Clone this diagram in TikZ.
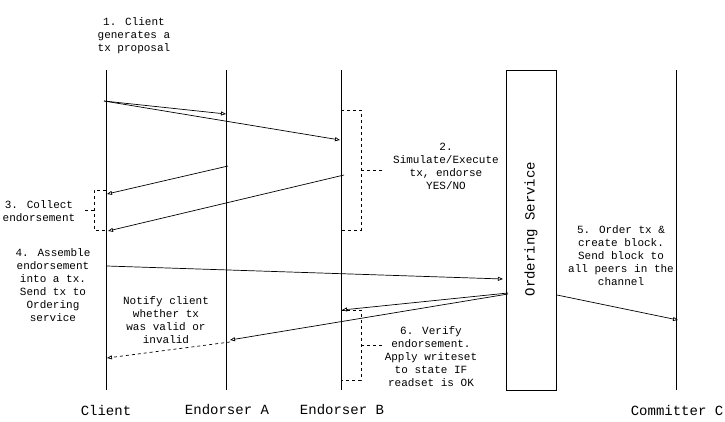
\documentclass[tikz,border=0pt]{standalone}
\usepackage{fontspec}
\setmainfont{Liberation Mono}
\usetikzlibrary{arrows.meta}
\begin{document}
\begin{tikzpicture}[x=1pt,y=-1pt,
  lifeline/.style={line width=0.8pt},
  msg/.style={line width=0.7pt,-{Triangle[open,length=5pt,width=4pt]}},
  reply/.style={msg,dashed},
  bracket/.style={dashed,line width=0.7pt},
  note/.style={font=\fontsize{11}{13}\selectfont,align=center,inner sep=0pt},
  actor/.style={font=\fontsize{14}{16}\selectfont,inner sep=0pt}]
\useasboundingbox (0,0) rectangle (725,421);
% lifelines
\coordinate (ct) at (106,70); \coordinate (cb) at (106,390);
\coordinate (at) at (226,70); \coordinate (ab) at (226,390);
\coordinate (bt) at (341,70); \coordinate (bb) at (341,390);
\coordinate (kt) at (676,70); \coordinate (kb) at (676,390);
\draw[lifeline] (ct) -- (cb);
\draw[lifeline] (at) -- (ab);
\draw[lifeline] (bt) -- (bb);
\draw[lifeline] (kt) -- (kb);
\node[draw,line width=0.8pt,minimum width=50pt,minimum height=320pt,inner sep=0pt] (os) at (531,230) {};
\node[actor,rotate=90] (ost) at (531,229) {Ordering Service};
% actor labels
\node[actor] (lc) at (106,410) {Client};
\node[actor] (la) at (227,410) {Endorser A};
\node[actor] (lb) at (342,410) {Endorser B};
\node[actor] (lk) at (677,410) {Committer C};
% notes
\node[note] (n1) at (134,36) {1. Client\\generates a\\tx proposal};
\node[note] (n2) at (446,166) {2.\\Simulate/Execute\\tx, endorse\\YES/NO};
\node[note] (n3) at (39,211) {3. Collect\\endorsement};
\node[note] (n4) at (53,285) {4. Assemble\\endorsement\\into a tx.\\Send tx to\\Ordering\\service};
\node[note] (n5) at (621,256) {5. Order tx \&\\create block.\\Send block to\\all peers in the\\channel};
\node[note] (n6) at (431,357) {6. Verify\\endorsement.\\Apply writeset\\to state IF\\readset is OK};
\node[note] (nn) at (166,320) {Notify client\\whether tx\\was valid or\\invalid};
% message endpoints
\coordinate (m1s) at (104,101); \coordinate (m1e) at (226,114);
\coordinate (m2e) at (340,140);
\coordinate (m3s) at (228,166); \coordinate (m3e) at (107,194);
\coordinate (m4s) at (344,175); \coordinate (m4e) at (108,231);
\coordinate (m5s) at (107,266); \coordinate (m5e) at (503,279);
\coordinate (m6s) at (508,293); \coordinate (m6e) at (342,310);
\coordinate (m7s) at (508,294); \coordinate (m7e) at (230,340);
\coordinate (m8s) at (230,342); \coordinate (m8e) at (107,358);
\coordinate (m9s) at (557,295); \coordinate (m9e) at (678,320);
\draw[msg] (m1s) -- (m1e);
\draw[msg] (m1s) -- (m2e);
\draw[msg] (m3s) -- (m3e);
\draw[msg] (m4s) -- (m4e);
\draw[msg] (m5s) -- (m5e);
\draw[msg] (m6s) -- (m6e);
\draw[msg] (m7s) -- (m7e);
\draw[reply] (m8s) -- (m8e);
\draw[msg] (m9s) -- (m9e);
% brackets
\coordinate (b1a) at (341,110); \coordinate (b1b) at (361,110);
\coordinate (b1c) at (361,230); \coordinate (b1d) at (341,230);
\coordinate (b1m) at (361,170); \coordinate (b1t) at (382,170);
\draw[bracket] (b1a) -- (b1b) -- (b1c) -- (b1d);
\draw[bracket] (b1m) -- (b1t);
\coordinate (b2a) at (106,190); \coordinate (b2b) at (94,190);
\coordinate (b2c) at (94,230); \coordinate (b2d) at (106,230);
\coordinate (b2m) at (94,210); \coordinate (b2t) at (82,210);
\draw[bracket] (b2a) -- (b2b) -- (b2c) -- (b2d);
\draw[bracket] (b2m) -- (b2t);
\coordinate (b3a) at (341,310); \coordinate (b3b) at (361,310);
\coordinate (b3c) at (361,380); \coordinate (b3d) at (341,380);
\coordinate (b3m) at (361,345); \coordinate (b3t) at (382,345);
\draw[bracket] (b3a) -- (b3b) -- (b3c) -- (b3d);
\draw[bracket] (b3m) -- (b3t);
\end{tikzpicture}
\end{document}
